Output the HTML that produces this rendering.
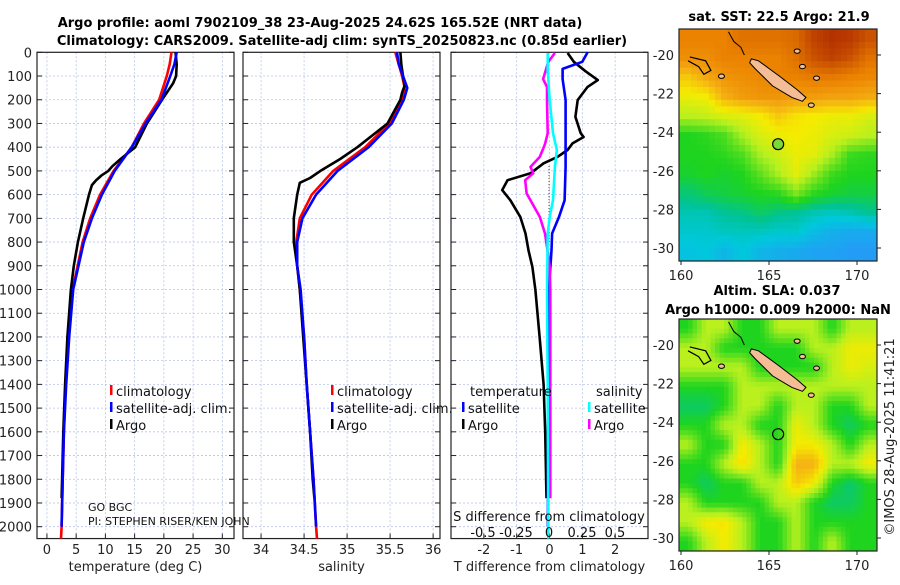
<!DOCTYPE html>
<html><head><meta charset="utf-8">
<style>
html,body{margin:0;padding:0;background:#fff;}
body{width:900px;height:580px;overflow:hidden;font-family:"Liberation Sans","DejaVu Sans",sans-serif;}
svg text{font-family:"DejaVu Sans","Liberation Sans",sans-serif;}
</style></head>
<body>
<svg id="chart" width="900" height="580" viewBox="0 0 900 580" xmlns="http://www.w3.org/2000/svg">
<g id="titles" font-weight="bold" font-size="13" fill="#000" text-anchor="middle">
<text x="320" y="27">Argo profile: aoml 7902109_38 23-Aug-2025 24.62S 165.52E (NRT data)</text>
<text x="342" y="45">Climatology: CARS2009. Satellite-adj clim: synTS_20250823.nc (0.85d earlier)</text>
<text x="779" y="21">sat. SST: 22.5 Argo: 21.9</text>
<text x="777" y="295">Altim. SLA: 0.037</text>
<text x="778" y="314">Argo h1000: 0.009 h2000: NaN</text>
</g>
<text transform="translate(894,437) rotate(-90)" text-anchor="middle" font-size="13" fill="#222">©IMOS 28-Aug-2025 11:41:21</text>
<g id="plots"></g>
</svg>
<script>
// ---------- data ----------
const depthTicks=[0,100,200,300,400,500,600,700,800,900,1000,1100,1200,1300,1400,1500,1600,1700,1800,1900,2000];
const tempTicks=[0,5,10,15,20,25,30];
const salTicks=[34,34.5,35,35.5,36];
const salTickLabels=['34','34.5','35','35.5','36'];
const tdiffTicks=[-2,-1,0,1,2];
const sdiffTicks=[-0.5,-0.25,0,0.25,0.5];
const sdiffTickLabels=['-0.5','-0.25','0','0.25','0.5'];

const tDepth=[0,50,100,200,300,400,500,600,700,800,1000,1200,1400,1600,1800,2000,2050];
const tClim=[21.3,21.0,20.5,19.2,16.6,14.5,11.4,9.1,7.4,6.1,4.4,3.7,3.2,2.9,2.7,2.5,2.4];
const tSat=[22.2,21.8,21.1,19.6,16.9,14.5,11.6,9.4,7.7,6.3,4.5,3.8,3.3,2.9,2.7,2.5];
const argoDepth=[0,50,100,130,200,300,400,450,480,500,520,540,560,600,700,800,900,1000,1200,1400,1600,1800,1880];
const tArgo=[22.0,22.2,22.1,21.6,19.7,17.1,15.1,12.6,11.2,10.5,9.3,8.4,7.7,7.2,6.2,5.3,4.6,4.1,3.5,3.1,2.8,2.6,2.5];
const sClim=[35.56,35.60,35.64,35.67,35.64,35.49,35.21,34.84,34.59,34.45,34.41,34.42,34.45,34.50,34.53,34.57,34.61,34.64,34.65];
const sDepth=[0,50,100,150,200,300,400,500,600,700,800,900,1000,1200,1400,1600,1800,2000,2050];
const sSat=[35.58,35.60,35.65,35.70,35.66,35.52,35.25,34.89,34.64,34.48,34.42,34.42,34.46,34.50,34.53,34.57,34.61,34.64];
const sArgo=[35.62,35.63,35.65,35.67,35.64,35.62,35.47,35.12,34.92,34.69,34.57,34.45,34.42,34.38,34.38,34.40,34.42,34.45,34.49,34.53,34.57,34.60,34.62];
const sArgoDepth=[0,50,100,140,170,200,300,400,450,500,530,550,600,700,800,850,900,1000,1200,1400,1600,1800,1880];

const dDepthArgo=[3,40,80,117,146,201,272,341,357,384,412,441,468,510,539,581,624,694,764,835,905,1002,1200,1400,1600,1880];
const tDiffArgo=[0.55,0.74,1.1,1.47,1.16,0.86,0.79,0.95,1.04,0.70,0.55,0.24,-0.18,-0.58,-1.28,-1.44,-1.19,-0.89,-0.73,-0.64,-0.52,-0.43,-0.30,-0.18,-0.13,-0.09];
const dDepthSat=[0,40,70,113,201,341,483,624,694,764,835,1002,1400,2000];
const tDiffSat=[1.16,1.0,0.4,0.4,0.49,0.49,0.49,0.46,0.29,0.08,0.06,-0.02,-0.04,-0.05];
const sDiffArgoDepth=[3,40,113,146,201,341,387,441,483,510,539,595,694,764,820,905,1002,1400,1880];
const sDiffArgo=[0.045,-0.005,-0.045,-0.015,-0.015,-0.01,-0.03,-0.07,-0.14,-0.12,-0.18,-0.17,-0.07,-0.03,-0.015,0.005,0.01,0.01,0.01];
const sDiffSatDepth=[3,80,201,341,412,483,624,694,764,1002,1400,2050];
const sDiffSat=[-0.01,-0.01,0.005,0.03,0.06,0.045,0.03,0.005,-0.01,-0.015,-0.01,-0.005];

// Map data (rows top->bottom lat -19..-30.5, cols lon 160..171)
const sstGrid=[
[25,25,25,25.2,25.2,25.2,25.3,25.8,26,25.9,25.6],
[24.8,24.8,25,25,25,25,25.2,25.6,25.8,25.6,25.2],
[24.0,24.4,24.7,24.8,24.9,25,25,25.1,25.1,25,24.9],
[23.5,23.6,24.3,24.6,24.7,24.7,24.6,24.6,24.5,24.5,24.4],
[23.0,23.1,23.3,23.4,23.6,24.0,23.7,23.6,23.5,23.5,23.3],
[22.0,22.1,22.3,22.9,23.3,23.5,23.6,23.5,23.3,23.2,23.0],
[22.0,22.0,22.1,22.3,22.9,23.2,23.5,23.4,22.9,22.2,22.1],
[21.9,22.0,21.9,22.0,22.4,22.9,23.4,22.8,22.2,22.0,22.0],
[21.5,21.7,21.8,21.9,22.0,22.1,22.6,22.1,21.9,21.8,21.8],
[21.1,21.1,21.3,21.4,21.6,21.4,21.3,21.1,21.0,21.1,21.3],
[20.9,20.9,21.0,21.0,21.0,20.9,20.9,20.6,20.4,20.3,20.3],
[20.7,20.8,20.5,20.8,20.5,20.4,20.3,20.2,20.2,20.1,20.1]];
const slaGrid=[
[22,23,23,22,22,23,23,23,22,23,23],
[23,23,22,22,22,22,22,23,23,23.5,23.5],
[23,23,23,23,22,22,22,22,23,23.5,23.3],
[22,22,22,23,23,23,23,23,23,23,23],
[21.6,21.6,22,23,23,22,23,23,22,22,23],
[22,22,23,23,22,22,23.5,23,22,21.6,22],
[23,22,22,23.6,23,22,23.6,23.6,23,22,23],
[22,22,23,23.8,23,22,24.3,24.3,23,23,23.6],
[22,21.6,22,22,23,23,24,23.6,22,21.5,22],
[23,22,22,22,22,23,23,22,21.6,21.6,22],
[23,23.6,23.7,23,22,22,23,22,22,22,22],
[22,23,23.6,23,22,22,23,22,23,22,22]];
const mapLonTicks=[160,165,170];
const mapLatTicks=[-20,-22,-24,-26,-28,-30];

// ---------- helpers ----------
const NS='http://www.w3.org/2000/svg';
const root=document.getElementById('plots');
function mk(tag,attrs,parent){const e=document.createElementNS(NS,tag);for(const k in attrs)e.setAttribute(k,attrs[k]);(parent||root).appendChild(e);return e;}
const Y0=52.3, YK=0.2372;
function yD(d){return Y0+d*YK;}

function panel(name,x0,x1,xmin,xmax,xt,xtl,xlabel,showY){
  const g=mk('g',{});
  
  
  const sx=v=>x0+(v-xmin)/(xmax-xmin)*(x1-x0);
  const yb=yD(2050);
  xt.forEach(v=>{const l=mk('line',{x1:sx(v),x2:sx(v),y1:Y0,y2:yb,stroke:'#b8c4e8','stroke-width':0.8,'stroke-dasharray':'2,2'},g);
    });
  depthTicks.forEach(d=>{const l=mk('line',{x1:x0,x2:x1,y1:yD(d),y2:yD(d),stroke:'#b8c4e8','stroke-width':0.8,'stroke-dasharray':'2,2'},g);
    
    mk('line',{x1:x0,x2:x0+5,y1:yD(d),y2:yD(d),stroke:'#222'},g);
    mk('line',{x1:x1-5,x2:x1,y1:yD(d),y2:yD(d),stroke:'#222'},g);
    if(showY){const t=mk('text',{x:x0-5,y:yD(d)+5,'text-anchor':'end','font-size':13,fill:'#222'},g);t.textContent=d;
      }
  });
  xt.forEach((v,i)=>{mk('line',{x1:sx(v),x2:sx(v),y1:yb,y2:yb-5,stroke:'#222'},g);
    if(xtl){const t=mk('text',{x:sx(v),y:554,'text-anchor':'middle','font-size':13,fill:'#222'},g);t.textContent=xtl[i];
      }});
  const fr=mk('rect',{x:x0,y:Y0,width:x1-x0,height:yb-Y0,fill:'none',stroke:'#222','stroke-width':1.2},g);
  
  const lb=mk('text',{x:(x0+x1)/2,y:571,'text-anchor':'middle','font-size':13,fill:'#222'},g);lb.textContent=xlabel;
  
  return {g,sx};
}
function series(p,name,depths,vals,color,w,sx){
  const f=sx||p.sx;
  const pts=vals.map((v,i)=>f(v).toFixed(1)+','+yD(depths[i]).toFixed(1)).join(' ');
  const l=mk('polyline',{points:pts,fill:'none',stroke:color,'stroke-width':w||2.6,'stroke-linejoin':'round'},p.g);
  
}
function legend(g,x,y,items){
  items.forEach((it,i)=>{
    const m=mk('rect',{x:x,y:y+i*17-11,width:2.5,height:10,fill:it[1]},g);
    
    const t=mk('text',{x:x+6,y:y+i*17,'font-size':13,fill:'#111'},g);t.textContent=it[0];
    
  });
}

// Panel 1 temperature
const p1=panel('temperature-panel',37,234,-1.7,32.0,tempTicks,tempTicks.map(String),'temperature (deg C)',true);
series(p1,'temp-climatology-line',tDepth,tClim,'#ff0000');
series(p1,'temp-argo-line',argoDepth,tArgo,'#000000');
series(p1,'temp-satellite-line',tDepth.slice(0,tSat.length),tSat,'#0000ff');
legend(p1.g,110,396,[['climatology','#ff0000'],['satellite-adj. clim.','#0000ff'],['Argo','#000']]);
let t1=mk('text',{x:88,y:511,'font-size':11,fill:'#111'},p1.g);t1.textContent='GO BGC';

let t2=mk('text',{x:88,y:525,'font-size':11,fill:'#111'},root);t2.textContent='PI: STEPHEN RISER/KEN JOHN';


// Panel 2 salinity
const p2=panel('salinity-panel',243,440,33.79,36.08,salTicks,salTickLabels,'salinity',false);
series(p2,'sal-climatology-line',sDepth,sClim,'#ff0000');
series(p2,'sal-argo-line',sArgoDepth,sArgo,'#000000');
series(p2,'sal-satellite-line',sDepth.slice(0,sSat.length),sSat,'#0000ff');
legend(p2.g,331,396,[['climatology','#ff0000'],['satellite-adj. clim.','#0000ff'],['Argo','#000']]);

// Panel 3 differences
const p3=panel('difference-panel',451,648,-3.0,3.0,tdiffTicks,tdiffTicks.map(String),'T difference from climatology',false);
const sxS=v=>549+v*132;
let dl=mk('line',{x1:549,x2:549,y1:yD(480),y2:yD(800),stroke:'#333','stroke-width':1,'stroke-dasharray':'1,2'},p3.g);

series(p3,'tdiff-argo-line',dDepthArgo,tDiffArgo,'#000000');
series(p3,'tdiff-satellite-line',dDepthSat,tDiffSat,'#0000ff');
series(p3,'sdiff-argo-line',sDiffArgoDepth,sDiffArgo,'#ff00ff',2.6,sxS);
series(p3,'sdiff-satellite-line',sDiffSatDepth,sDiffSat,'#00ffff',2.6,sxS);
let tt=mk('text',{x:470,y:396,'font-size':13,fill:'#111'},p3.g);tt.textContent='temperature';

let st=mk('text',{x:596,y:396,'font-size':13,fill:'#111'},p3.g);st.textContent='salinity';

legend(p3.g,462,413,[['satellite','#0000ff'],['Argo','#000']]);
legend(p3.g,588,413,[['satellite','#00ffff'],['Argo','#ff00ff']]);
let sl=mk('text',{x:549,y:521,'text-anchor':'middle','font-size':13,fill:'#111'},p3.g);sl.textContent='S difference from climatology';

sdiffTicks.forEach((v,i)=>{const t=mk('text',{x:sxS(v),y:537,'text-anchor':'middle','font-size':13,fill:'#111'},p3.g);t.textContent=sdiffTickLabels[i];
  });

// ---------- maps ----------
const stops=[[20,[40,150,250]],[20.8,[0,200,220]],[21.3,[0,195,150]],[22,[30,212,30]],[23,[185,240,30]],[23.6,[245,235,0]],[24.3,[245,175,20]],[25,[235,130,0]],[26,[180,50,0]]];
function col(v){if(v<=stops[0][0])return 'rgb('+stops[0][1]+')';
  for(let i=1;i<stops.length;i++){if(v<=stops[i][0]){const a=stops[i-1],b=stops[i],t=(v-a[0])/(b[0]-a[0]);
    return 'rgb('+a[1].map((c,k)=>Math.round(c+(b[1][k]-c)*t)).join(',')+')';}}
  return 'rgb('+stops[stops.length-1][1]+')';}
function sample(grid,fy,fx){
  const R=grid.length,C=grid[0].length;
  fy=Math.max(0,Math.min(R-1,fy));fx=Math.max(0,Math.min(C-1,fx));
  const r0=Math.floor(fy),c0=Math.floor(fx),r1=Math.min(R-1,r0+1),c1=Math.min(C-1,c0+1),ty=fy-r0,tx=fx-c0;
  return (grid[r0][c0]*(1-tx)+grid[r0][c1]*tx)*(1-ty)+(grid[r1][c0]*(1-tx)+grid[r1][c1]*tx)*ty;
}
function map(name,x0,y0,x1,y1,grid,cellName,circleFill,sub){
  const g=mk('g',{});
  
  const lon=v=>x0+2+(v-160)*17.6;
  const lat=v=>y0+26+(-20-v)*19.3;
  const rows=grid.length,cols=grid[0].length,cw=(x1-x0)/(cols*sub),ch=(y1-y0)/(rows*sub);
  for(let r=0;r<rows*sub;r++)for(let c=0;c<cols*sub;c++){
    const v=sample(grid,(r+0.5)/sub-0.5,(c+0.5)/sub-0.5);
    const e=mk('rect',{x:(x0+c*cw).toFixed(2),y:(y0+r*ch).toFixed(2),width:(cw+0.5).toFixed(2),height:(ch+0.5).toFixed(2),fill:col(v)},g);
    
  }
  const isl=mk('polygon',{points:[[164.0,-20.2],[164.4,-20.3],[165.6,-21.1],[166.6,-21.8],[167.1,-22.2],[166.9,-22.4],[166.3,-22.2],[165.2,-21.6],[164.2,-20.7],[163.9,-20.4]].map(p=>lon(p[0])+','+lat(p[1])).join(' '),fill:'#f4bd96',stroke:'#000','stroke-width':1},g);
  
  const coast=mk('polyline',{points:[[160.5,-20.1],[161.4,-20.3],[161.7,-20.8],[161.3,-21.0],[161.0,-20.6],[160.4,-20.3]].map(p=>lon(p[0])+','+lat(p[1])).join(' '),fill:'none',stroke:'#000','stroke-width':1.2},g);
  
  const coast2=mk('polyline',{points:[[162.7,-18.8],[163.0,-19.3],[163.4,-19.6],[163.6,-20.0]].map(p=>lon(p[0])+','+lat(p[1])).join(' '),fill:'none',stroke:'#000','stroke-width':1},g);
  
  [[162.3,-21.1],[166.6,-19.8],[166.9,-20.6],[167.7,-21.2],[167.4,-22.6]].forEach(p=>{
    const e=mk('ellipse',{cx:lon(p[0]),cy:lat(p[1]),rx:3,ry:2.2,fill:'#f4bd96',stroke:'#000','stroke-width':1},g);
    });
  const c=mk('circle',{cx:lon(165.52),cy:lat(-24.62),r:5.5,fill:circleFill,stroke:'#000','stroke-width':1.2},g);
  
  const fr=mk('rect',{x:x0,y:y0,width:x1-x0,height:y1-y0,fill:'none',stroke:'#222','stroke-width':1.2},g);
  
  mapLatTicks.forEach(v=>{mk('line',{x1:x1,x2:x1+4,y1:lat(v),y2:lat(v),stroke:'#222'},g);
    const t=mk('text',{x:x0-5,y:lat(v)+5,'text-anchor':'end','font-size':13,fill:'#222'},g);t.textContent=v;
    });
  mapLonTicks.forEach(v=>{mk('line',{x1:lon(v),x2:lon(v),y1:y1,y2:y1+4,stroke:'#222'},g);
    const t=mk('text',{x:lon(v),y:y1+19,'text-anchor':'middle','font-size':13,fill:'#222'},g);t.textContent=v;
    });
}
map('sst-map',679,29,877,261,sstGrid,'sst-cell','#7ad83a',3);
map('sla-map',679,319,877,551,slaGrid,'sla-cell','none',4);
</script>
</body></html>
